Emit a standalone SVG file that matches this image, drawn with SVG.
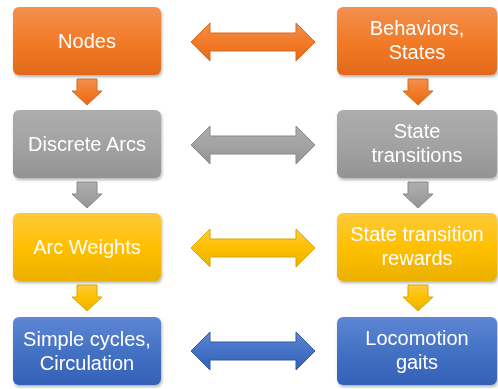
<svg xmlns="http://www.w3.org/2000/svg" width="498" height="389" viewBox="0 0 498 389">
<defs>
<linearGradient id="gO" x1="0" y1="0" x2="0" y2="1"><stop offset="0" stop-color="#F2904F"/><stop offset="0.5" stop-color="#F27B28"/><stop offset="1" stop-color="#E2691A"/></linearGradient>
<linearGradient id="gG" x1="0" y1="0" x2="0" y2="1"><stop offset="0" stop-color="#ADADAD"/><stop offset="0.5" stop-color="#A3A3A3"/><stop offset="1" stop-color="#939393"/></linearGradient>
<linearGradient id="gY" x1="0" y1="0" x2="0" y2="1"><stop offset="0" stop-color="#FFCA3A"/><stop offset="0.5" stop-color="#FFC000"/><stop offset="1" stop-color="#EAB000"/></linearGradient>
<linearGradient id="gB" x1="0" y1="0" x2="0" y2="1"><stop offset="0" stop-color="#5F86D4"/><stop offset="0.5" stop-color="#4472C4"/><stop offset="1" stop-color="#3461B8"/></linearGradient>
<filter id="sh" x="-10%" y="-10%" width="125%" height="130%"><feDropShadow dx="1" dy="2" stdDeviation="1.5" flood-color="#000" flood-opacity="0.3"/></filter>
<path id="down" d="M-10,0 H10 V12 H15 L0,26 L-15,12 H-10 Z"/>
<path id="harr" d="M0,0 L19,-19 V-9 H105 V-19 L124,0 L105,19 V9 H19 V19 Z"/>
</defs>
<style>
.n{filter:url(#sh)}
text{font-family:"Liberation Sans",Arial,sans-serif;font-size:20px;fill:#fff;text-anchor:middle}
.o{fill:url(#gO);stroke:#D9691F;stroke-width:1}
.g{fill:url(#gG);stroke:#8A8A8A;stroke-width:1}
.y{fill:url(#gY);stroke:#D9A600;stroke-width:1}
.b{fill:url(#gB);stroke:#2F5AA8;stroke-width:1}
.bx{stroke:none}
</style>
<g id="nodes-left">
<g id="n-nodes" class="n"><rect class="o bx" x="13" y="7" width="148" height="68" rx="6"/><text x="87" y="48">Nodes</text></g>
<g id="n-arcs" class="n"><rect class="g bx" x="13" y="110" width="148" height="68" rx="6"/><text x="87" y="151">Discrete Arcs</text></g>
<g id="n-weights" class="n"><rect class="y bx" x="13" y="213" width="148" height="68" rx="6"/><text x="87" y="254">Arc Weights</text></g>
<g id="n-cycles" class="n"><rect class="b bx" x="13" y="317" width="148" height="68" rx="6"/><text x="87" y="346">Simple cycles,</text><text x="87" y="370">Circulation</text></g>
</g>
<g id="nodes-right">
<g id="n-behaviors" class="n"><rect class="o bx" x="337" y="7" width="160" height="68" rx="6"/><text x="417" y="35">Behaviors,</text><text x="417" y="59">States</text></g>
<g id="n-transitions" class="n"><rect class="g bx" x="337" y="110" width="160" height="68" rx="6"/><text x="417" y="138">State</text><text x="417" y="162">transitions</text></g>
<g id="n-rewards" class="n"><rect class="y bx" x="337" y="213" width="160" height="68" rx="6"/><text x="417" y="241">State transition</text><text x="417" y="265">rewards</text></g>
<g id="n-gaits" class="n"><rect class="b bx" x="337" y="317" width="160" height="68" rx="6"/><text x="417" y="345">Locomotion</text><text x="417" y="369">gaits</text></g>
</g>
<g id="connectors">
<use href="#down" class="o" x="87" y="79"/>
<use href="#down" class="g" x="87" y="182"/>
<use href="#down" class="y" x="87" y="285"/>
<use href="#down" class="o" x="418" y="79"/>
<use href="#down" class="g" x="418" y="182"/>
<use href="#down" class="y" x="418" y="285"/>
<use href="#harr" class="o" x="191" y="42"/>
<use href="#harr" class="g" x="191" y="145"/>
<use href="#harr" class="y" x="191" y="248"/>
<use href="#harr" class="b" x="191" y="351"/>
</g>
</svg>
